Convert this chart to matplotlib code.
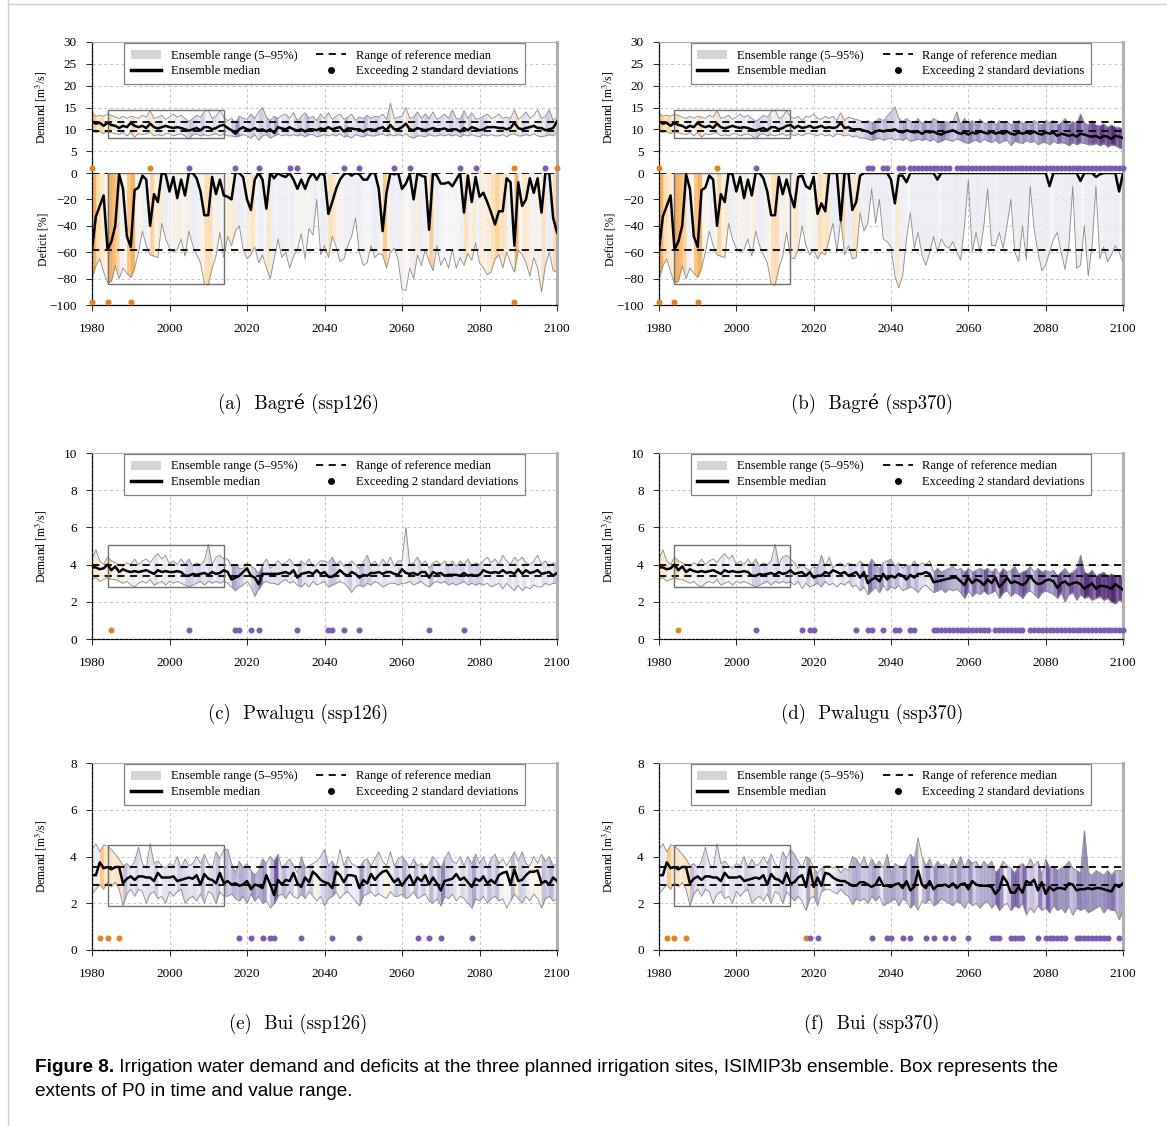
import numpy as np
import matplotlib
matplotlib.use("Agg")
import matplotlib.pyplot as plt
from matplotlib.colors import Normalize
from matplotlib.patches import Patch, Rectangle
from matplotlib.lines import Line2D
import matplotlib.font_manager as fm

plt.rcParams['font.family'] = ['Liberation Serif', 'DejaVu Serif']
plt.rcParams['mathtext.fontset'] = 'stix'
plt.rcParams['axes.unicode_minus'] = True

years = np.arange(1980, 2101)

# ---------------- Bagré demand [m3/s] ----------------
bagre_hist_med = [11.8, 11.3, 11.5, 10.8, 11.5, 11.0, 10.8, 10.3, 10.8, 10.5,
                  11.5, 10.8, 10.5, 10.8, 10.3, 11.3, 10.5, 10.2, 10.5, 10.8,
                  10.5, 10.3, 10.5, 10.3, 10.0, 9.7, 10.0, 10.3, 9.8, 10.5,
                  10.5, 10.0, 10.3, 10.8, 11.0]
bagre_hist_hi = [13.8, 13.0, 13.2, 13.0, 13.5, 13.2, 12.8, 12.5, 13.0, 12.5,
                 13.0, 12.8, 12.5, 13.2, 12.8, 14.3, 12.5, 12.8, 13.2, 12.3,
                 12.8, 13.5, 12.8, 13.2, 12.5, 11.8, 12.5, 13.2, 12.8, 14.0,
                 14.5, 12.5, 13.0, 14.3, 12.8]
bagre_hist_lo = [9.5, 9.3, 9.5, 9.0, 9.5, 9.2, 9.0, 8.8, 9.3, 8.5,
                 9.3, 8.2, 9.0, 8.8, 9.0, 9.3, 8.5, 8.8, 8.5, 9.0,
                 9.0, 8.5, 8.8, 9.0, 8.5, 7.8, 8.8, 9.0, 8.5, 8.8,
                 8.5, 8.8, 9.0, 8.5, 9.0]
bagre_126_med = [10.3, 9.8, 9.0, 10.0, 10.5,
                 10.0, 9.8, 10.3, 9.8, 10.0, 9.5, 10.0, 9.2, 10.5, 10.2,
                 10.0, 10.5, 10.0, 9.7, 10.0, 9.5, 10.0, 10.0, 9.8, 10.2,
                 10.0, 10.5, 10.0, 10.3, 10.5, 9.5, 10.2, 10.2, 10.0, 10.0,
                 9.5, 10.0, 10.0, 9.8, 10.2, 10.5, 9.8, 11.0, 10.0, 10.0,
                 10.5, 11.3, 10.0, 9.8, 10.3, 10.0, 9.8, 10.0, 10.3, 10.0,
                 10.0, 10.2, 9.8, 10.0, 10.0, 9.5, 10.3, 9.8, 10.5, 10.2,
                 9.8, 10.0, 10.5, 10.5, 10.5, 10.3, 10.3, 10.0, 10.3, 11.5,
                 10.3, 10.0, 10.3, 10.5, 10.8, 10.3, 10.3, 9.8, 10.0, 10.3,
                 11.8]
bagre_126_hi = [12.0, 12.5, 11.5, 13.0, 12.5,
                12.3, 13.5, 12.5, 14.0, 15.0, 12.8, 12.0, 13.0, 12.5, 13.2,
                13.5, 12.5, 13.8, 12.0, 13.0, 13.8, 12.5, 13.0, 12.0, 13.5,
                12.5, 13.8, 12.3, 13.0, 13.5, 12.3, 12.8, 13.5, 12.0, 12.8,
                12.5, 13.2, 12.5, 13.0, 12.8, 13.5, 12.3, 16.0, 12.5, 12.8,
                13.0, 15.0, 12.5, 12.8, 14.0, 12.5, 13.5, 12.5, 14.0, 12.3,
                12.8, 13.5, 12.5, 14.5, 12.5, 12.3, 14.3, 12.5, 13.8, 12.3,
                12.5, 13.0, 13.5, 12.5, 12.8, 13.5, 12.5, 12.8, 12.5, 14.5,
                12.3, 13.0, 14.0, 12.5, 13.2, 14.5, 12.5, 13.0, 14.5, 12.0,
                12.8]
bagre_126_lo = [8.5, 8.5, 8.3, 8.5, 8.8,
                8.5, 8.0, 8.8, 7.5, 8.5, 8.8, 8.0, 8.5, 9.0, 8.5,
                8.8, 8.5, 8.8, 8.5, 8.8, 8.3, 8.8, 8.8, 8.3, 8.5,
                8.8, 8.5, 8.8, 8.5, 9.0, 8.3, 8.5, 8.0, 8.8, 8.5,
                8.3, 8.8, 8.5, 8.5, 8.8, 9.0, 8.5, 8.8, 8.5, 8.8,
                8.5, 9.0, 8.3, 8.0, 8.5, 8.5, 8.3, 8.8, 8.5, 8.5,
                8.8, 8.5, 8.8, 8.5, 8.8, 8.3, 8.8, 8.5, 8.8, 8.5,
                8.3, 8.8, 8.5, 8.8, 8.5, 8.5, 8.8, 8.3, 8.8, 9.0,
                8.5, 8.5, 8.8, 8.5, 9.0, 8.5, 8.3, 8.5, 8.8, 8.5,
                9.3]
bagre_370_med = [10.3, 10.8, 10.3, 10.5, 10.8,
                 10.3, 10.5, 10.8, 10.3, 10.5, 10.3, 10.5, 11.5, 10.3, 10.5,
                 10.0, 10.0, 10.0, 9.7, 9.5, 9.0, 9.5, 9.8, 9.5, 9.8,
                 9.8, 10.0, 9.5, 9.3, 9.8, 9.5, 9.3, 9.5, 9.0, 9.5,
                 9.3, 9.5, 9.0, 8.8, 9.3, 9.5, 9.8, 9.3, 9.0, 9.3,
                 8.8, 9.3, 9.0, 9.5, 9.3, 9.0, 9.5, 9.0, 9.3, 9.0,
                 9.5, 9.0, 8.8, 9.3, 9.0, 9.3, 9.0, 9.5, 9.0, 8.8,
                 9.3, 9.0, 9.3, 8.5, 9.0, 8.8, 8.5, 8.8, 8.3, 9.0,
                 8.8, 8.5, 8.3, 8.5, 8.0, 8.5, 8.3, 7.8, 8.5, 8.3,
                 8.0]
bagre_370_hi = [12.5, 13.0, 12.0, 13.0, 12.8,
                13.5, 12.5, 12.3, 13.0, 12.5, 13.0, 12.0, 13.8, 12.0, 12.8,
                12.5, 12.3, 12.0, 11.5, 12.0, 11.5, 11.8, 12.5, 12.0, 13.0,
                14.0, 15.2, 12.5, 11.8, 12.5, 11.8, 11.5, 12.5, 11.3, 12.0,
                11.5, 12.5, 12.0, 11.5, 11.8, 11.5, 11.8, 14.0, 11.0, 12.5,
                11.3, 12.0, 11.0, 12.3, 11.5, 11.3, 12.0, 11.0, 12.0, 11.3,
                11.8, 11.0, 11.5, 12.0, 11.3, 11.8, 11.0, 12.0, 11.3, 11.0,
                12.0, 11.5, 12.0, 11.0, 11.5, 12.5, 11.0, 11.8, 11.3, 13.5,
                11.5, 11.0, 12.0, 11.0, 10.8, 11.3, 10.5, 11.0, 10.5, 10.5,
                10.0]
bagre_370_lo = [8.5, 9.0, 8.5, 9.0, 9.0,
                8.8, 8.5, 9.0, 8.5, 8.8, 8.3, 9.0, 8.8, 8.5, 8.8,
                8.3, 8.5, 8.0, 8.0, 7.8, 7.5, 7.8, 8.0, 7.5, 7.8,
                8.0, 7.5, 7.8, 7.5, 8.0, 7.3, 7.5, 7.8, 7.5, 7.8,
                7.3, 7.8, 7.0, 7.3, 7.8, 7.5, 7.3, 7.8, 7.5, 7.0,
                6.8, 7.3, 7.5, 7.0, 7.8, 7.3, 7.0, 7.5, 6.8, 7.3,
                7.5, 6.3, 7.3, 7.0, 6.8, 7.5, 7.0, 7.3, 6.5, 7.0,
                7.0, 6.5, 7.3, 6.8, 7.0, 6.8, 6.3, 7.0, 6.5, 7.0,
                6.8, 6.5, 6.5, 6.8, 6.3, 6.8, 6.0, 6.5, 6.3, 5.8,
                5.5]

# ---------------- Bagré deficit [%] ----------------
bagre_def_hist_med = [-58, -33, -25, -17, -58, -52, -40, -1, -12, -48,
                      -56, -13, -11, -2, -5, -40, -16, -22, 0, -1,
                      -14, -3, -19, -5, -17, 0, 0, -4, -14, -32,
                      -32, -3, -16, -5, -17]
bagre_def_hist_lo = [-80, -70, -65, -75, -83, -82, -70, -80, -72, -76,
                     -79, -72, -60, -44, -55, -62, -63, -64, -38, -50,
                     -57, -60, -58, -50, -63, -44, -55, -62, -68, -84,
                     -85, -72, -63, -45, -64]
bagre_def_126_med = [-18, -20, 0, 0, -3,
                     -20, -28, -5, 0, -5, -27, 0, -4, 0, -2,
                     -3, 0, -5, -12, -5, -12, -4, 0, -5, 0,
                     -2, -31, -22, -12, -5, -1, 0, -2, 0, -1,
                     -5, -5, 0, 0, -12, -44, -15, 0, -1, 0,
                     -12, -8, -1, -20, 0, -2, -3, -43, 0, -2,
                     -8, -8, -7, -10, -5, 0, -30, -2, -22, -3,
                     -18, -15, -22, -30, -39, -29, -29, -4, -7, -55,
                     -7, -25, -20, -4, -15, -4, -30, 0, 0, -34,
                     -45]
bagre_def_126_lo = [-48, -55, -44, -40, -58,
                    -65, -62, -56, -68, -62, -72, -80, -65, -50, -64,
                    -60, -72, -63, -58, -46, -65, -42, -47, -20, -62,
                    -55, -64, -48, -56, -67, -65, -55, -48, -34, -60,
                    -70, -68, -55, -64, -61, -62, -72, -60, -57, -66,
                    -88, -89, -72, -80, -62, -70, -58, -67, -74, -55,
                    -70, -64, -72, -58, -72, -64, -70, -61, -66, -53,
                    -68, -72, -77, -75, -65, -62, -72, -60, -68, -75,
                    -58, -62, -68, -78, -64, -72, -90, -70, -60, -74,
                    -75]
bagre_def_370_med = [-26, -3, -2, -10, -12,
                     -3, -31, -23, -29, 0, 0, 0, -36, 0, 0,
                     -28, -22, -2, 0, 0, 0, 0, 0, 0, 0,
                     -5, -23, -2, -2, -7, 0, 0, 0, 0, 0,
                     0, 0, -5, 0, 0, 0, 0, 0, 0, 0,
                     0, 0, 0, 0, 0, 0, 0, 0, 0, 0,
                     0, 0, 0, 0, 0, 0, 0, 0, 0, 0,
                     0, -10, 0, 0, 0, 0, 0, 0, 0, -6,
                     0, 0, 0, -3, -1, 0, 0, 0, 0, -14,
                     0]
bagre_def_370_lo = [-65, -58, -40, -55, -62,
                    -58, -65, -60, -62, -50, -38, -60, -35, -62, -55,
                    -65, -64, -30, -44, -38, -12, -38, -20, -50, -52,
                    -56, -78, -87, -78, -50, -30, -57, -45, -62, -70,
                    -60, -48, -60, -50, -55, -57, -52, -60, -66, -40,
                    -5, -60, -45, -60, -40, -12, -55, -55, -45, -57,
                    -40, -20, -60, -67, -40, -66, -10, -42, -60, -74,
                    -70, -60, -50, -45, -60, -73, -55, -10, -72, -70,
                    -40, -78, -55, -10, -65, -56, -67, -62, -55, -60,
                    -68]

# ---------------- Pwalugu demand [m3/s] ----------------
pwalugu_hist_med = [3.85, 3.85, 3.75, 3.8, 4.0, 3.7, 3.9, 3.6, 3.75, 3.65,
                    3.6, 3.65, 3.6, 3.65, 3.7, 3.6, 3.5, 3.7, 3.6, 3.65,
                    3.6, 3.6, 3.65, 3.6, 3.4, 3.4, 3.5, 3.45, 3.5, 3.55,
                    3.45, 3.6, 3.5, 3.55, 3.7]
pwalugu_hist_hi = [4.3, 4.8, 4.2, 4.0, 4.4, 4.2, 4.1, 4.0, 3.9, 4.1,
                   4.0, 4.3, 4.0, 4.2, 4.3, 4.1, 4.4, 4.6, 4.3, 4.5,
                   4.0, 4.2, 4.0, 4.3, 4.0, 4.3, 3.9, 4.1, 4.0, 4.2,
                   5.1, 4.0, 4.4, 4.5, 4.3]
pwalugu_hist_lo = [3.2, 3.3, 3.1, 3.2, 3.3, 3.2, 3.2, 3.1, 3.0, 3.1,
                   2.9, 2.8, 3.0, 3.1, 3.0, 3.2, 2.9, 3.0, 3.1, 2.9,
                   3.1, 3.0, 3.1, 3.0, 2.9, 2.8, 2.9, 3.0, 3.1, 2.9,
                   3.1, 3.0, 3.1, 3.0, 3.1]
pwalugu_126_med = [3.6, 3.2, 3.3, 3.4, 3.6,
                   3.8, 3.4, 3.3, 2.95, 3.5, 3.5, 3.5, 3.5, 3.5, 3.55,
                   3.6, 3.5, 3.7, 3.3, 3.5, 3.55, 3.6, 3.5, 3.7, 3.5,
                   3.6, 3.35, 3.35, 3.5, 3.7, 3.5, 3.4, 3.6, 3.5, 3.3,
                   3.45, 3.4, 3.55, 3.55, 3.6, 3.5, 3.6, 3.6, 3.5, 3.45,
                   3.75, 3.55, 3.5, 3.55, 3.45, 3.6, 3.6, 3.3, 3.6, 3.5,
                   3.55, 3.4, 3.45, 3.45, 3.45, 3.4, 3.55, 3.4, 3.45, 3.4,
                   3.45, 3.7, 3.6, 3.55, 3.6, 3.55, 3.7, 3.55, 3.6, 3.5,
                   3.75, 3.5, 3.7, 3.55, 3.6, 3.7, 3.5, 3.55, 3.6, 3.4,
                   3.55]
pwalugu_126_hi = [4.3, 3.9, 4.0, 3.8, 3.8,
                  4.1, 3.9, 3.8, 3.5, 4.0, 4.3, 3.8, 4.0, 4.2, 4.0,
                  4.1, 4.3, 4.0, 3.9, 4.2, 4.0, 4.3, 3.9, 4.0, 4.2,
                  4.2, 4.1, 4.4, 4.0, 4.2, 3.9, 4.0, 4.2, 4.0, 3.8,
                  4.1, 4.5, 4.0, 4.2, 3.9, 4.3, 4.0, 4.4, 3.9, 4.2,
                  4.2, 6.0, 4.0, 4.1, 4.4, 4.0, 4.2, 3.8, 4.1, 4.2,
                  4.0, 4.2, 3.9, 4.2, 3.9, 4.2, 4.0, 4.3, 3.9, 4.1,
                  4.0, 4.2, 4.4, 4.1, 4.3, 4.0, 4.5, 4.2, 4.0, 4.4,
                  4.2, 4.4, 4.1, 4.0, 4.2, 4.5, 4.0, 4.2, 3.9, 4.1,
                  4.0]
pwalugu_126_lo = [3.0, 2.8, 2.6, 2.8, 2.9,
                  3.1, 2.8, 2.3, 2.7, 3.0, 3.1, 3.0, 3.0, 2.9, 3.1,
                  3.2, 3.0, 3.1, 2.9, 2.8, 3.0, 2.8, 3.1, 2.9, 3.0,
                  3.1, 2.8, 2.9, 3.0, 3.1, 3.0, 2.8, 2.5, 2.8, 2.9,
                  2.8, 3.0, 2.9, 3.1, 3.0, 2.8, 2.9, 3.0, 3.0, 2.9,
                  3.0, 3.0, 3.1, 2.9, 3.0, 3.1, 2.9, 2.8, 3.0, 3.1,
                  3.0, 3.1, 2.9, 3.0, 2.9, 3.0, 3.1, 2.9, 3.0, 2.9,
                  3.0, 2.9, 3.0, 2.8, 2.9, 3.0, 2.7, 3.0, 2.8, 2.6,
                  2.9, 2.6, 2.8, 2.7, 2.9, 2.8, 2.8, 3.0, 2.9, 3.0,
                  3.0]
pwalugu_370_med = [3.5, 3.55, 3.6, 3.4, 3.6,
                   3.3, 3.4, 3.4, 3.6, 3.5, 3.7, 3.6, 3.5, 3.6, 3.4,
                   3.5, 3.6, 3.3, 3.6, 3.0, 3.2, 3.3, 3.1, 3.5, 3.2,
                   3.4, 3.3, 3.5, 3.4, 3.2, 3.45, 3.3, 3.5, 3.5, 3.6,
                   3.5, 3.05, 3.1, 3.15, 3.2, 3.25, 3.3, 3.3, 3.1, 2.9,
                   3.3, 3.0, 3.2, 3.1, 2.9, 3.2, 3.0, 3.3, 2.8, 3.0,
                   3.3, 3.0, 3.1, 3.0, 2.9, 3.05, 3.4, 3.1, 2.95, 3.0,
                   3.15, 3.2, 3.1, 2.75, 3.0, 3.1, 2.9, 3.0, 3.05, 2.95,
                   2.7, 2.85, 3.0, 2.7, 2.85, 2.85, 2.8, 2.7, 2.95, 2.8,
                   2.65]
pwalugu_370_hi = [4.1, 3.8, 4.0, 3.8, 3.7,
                  3.9, 3.8, 4.5, 3.9, 4.4, 3.8, 4.0, 4.1, 3.9, 4.1,
                  4.0, 3.9, 4.2, 4.0, 3.9, 4.3, 4.0, 3.8, 4.1, 4.2,
                  4.3, 3.9, 4.1, 3.8, 4.0, 3.9, 4.2, 3.9, 4.1, 4.0,
                  4.2, 3.6, 3.8, 3.6, 3.7, 3.8, 3.9, 3.7, 3.8, 3.6,
                  3.8, 3.6, 3.7, 3.8, 3.7, 3.8, 3.6, 3.8, 3.5, 3.8,
                  3.6, 3.7, 3.9, 3.5, 3.6, 3.7, 3.9, 3.6, 3.8, 3.6,
                  3.7, 3.6, 3.7, 3.4, 3.6, 3.8, 3.5, 3.6, 3.8, 4.5,
                  3.6, 3.5, 3.7, 3.4, 3.5, 3.6, 3.4, 3.5, 3.4, 3.4,
                  3.3]
pwalugu_370_lo = [2.9, 3.1, 2.7, 3.0, 2.8,
                  2.9, 3.0, 2.8, 3.1, 2.9, 3.0, 2.8, 3.0, 2.9, 3.1,
                  2.8, 2.9, 2.6, 2.8, 2.4, 2.6, 2.8, 2.5, 2.9, 2.6,
                  2.8, 2.7, 2.9, 2.6, 2.7, 2.8, 2.7, 2.5, 2.8, 2.9,
                  2.7, 2.5, 2.6, 2.7, 2.5, 2.7, 2.6, 2.7, 2.5, 2.2,
                  2.6, 2.3, 2.5, 2.4, 2.6, 2.4, 2.5, 2.6, 2.2, 2.5,
                  2.6, 2.3, 2.5, 2.4, 2.2, 2.5, 2.6, 2.4, 2.2, 2.5,
                  2.6, 2.5, 2.4, 2.2, 2.5, 2.0, 2.4, 2.5, 2.1, 2.4,
                  2.2, 2.3, 2.1, 2.2, 2.3, 2.1, 2.2, 2.0, 1.9, 2.1,
                  2.0]

# ---------------- Bui demand [m3/s] ----------------
bui_hist_med = [3.2, 3.2, 3.75, 3.5, 3.55, 3.45, 3.55, 3.55, 2.85, 3.05,
                3.15, 3.0, 3.15, 3.15, 3.1, 3.1, 2.95, 3.3, 3.1, 3.1,
                3.1, 3.15, 2.95, 3.0, 3.05, 3.1, 3.05, 3.2, 2.8, 3.25,
                3.05, 3.0, 2.85, 3.3, 2.85]
bui_hist_hi = [4.3, 4.55, 4.2, 4.5, 4.45, 4.3, 4.1, 3.9, 3.6, 3.7,
               3.5, 3.8, 4.4, 3.7, 3.5, 4.55, 3.7, 3.8, 3.6, 3.5,
               3.7, 3.6, 4.0, 3.5, 3.9, 3.6, 3.7, 4.0, 3.7, 4.1,
               3.7, 3.5, 4.2, 3.9, 4.3]
bui_hist_lo = [2.4, 2.6, 2.8, 2.6, 2.9, 2.7, 2.9, 2.6, 1.9, 2.4,
               2.6, 2.3, 2.6, 2.5, 2.0, 2.4, 2.5, 2.2, 2.3, 2.0,
               2.5, 2.3, 2.5, 2.6, 2.0, 2.2, 2.3, 2.1, 2.4, 2.0,
               2.5, 2.4, 2.0, 2.5, 2.3]
bui_126_med = [2.95, 2.8, 2.85, 2.75, 2.8,
               2.95, 2.6, 2.8, 2.75, 2.65, 3.2, 2.8, 2.35, 3.0, 2.8,
               3.0, 2.95, 3.3, 2.85, 2.7, 3.1, 2.9, 3.35, 3.2, 3.0,
               2.9, 2.85, 2.65, 3.35, 3.2, 2.9, 3.2, 3.2, 3.15, 2.65,
               3.0, 2.85, 3.25, 3.0, 3.2, 3.35, 3.4, 3.15, 2.9, 3.05,
               2.75, 3.0, 3.2, 2.8, 3.1, 2.95, 3.2, 2.8, 3.1, 2.85,
               2.55, 2.95, 3.0, 3.05, 3.25, 3.0, 3.1, 2.9, 2.7, 3.05,
               2.95, 3.15, 2.85, 3.0, 2.85, 3.2, 3.3, 3.35, 2.8, 3.45,
               2.95, 3.0, 3.2, 3.35, 3.35, 3.4, 2.85, 2.95, 2.8, 3.1,
               2.95]
bui_126_hi = [4.3, 3.7, 3.3, 3.8, 3.5,
              3.7, 3.4, 3.2, 3.4, 3.9, 3.7, 4.0, 3.8, 4.1, 3.5,
              3.7, 3.9, 3.6, 3.3, 4.0, 3.5, 3.6, 3.7, 3.8, 4.0,
              4.3, 3.6, 3.8, 3.5, 4.3, 3.6, 4.0, 3.7, 3.6, 3.5,
              3.8, 3.9, 3.6, 3.9, 4.2, 3.8, 3.6, 4.2, 3.6, 3.9,
              4.0, 3.8, 3.5, 3.9, 3.6, 3.7, 3.5, 3.7, 4.0, 3.8,
              3.5, 3.9, 4.2, 3.8, 3.7, 4.0, 3.6, 4.0, 3.7, 4.1,
              3.7, 4.0, 3.5, 3.9, 4.1, 3.7, 3.9, 3.6, 3.9, 4.2,
              3.8, 4.2, 3.7, 3.6, 4.0, 3.7, 4.1, 3.8, 4.0, 3.6,
              3.7]
bui_126_lo = [2.3, 2.4, 2.2, 2.1, 2.3,
              2.0, 2.4, 2.1, 2.3, 2.0, 2.1, 1.8, 2.0, 2.3, 2.4,
              2.2, 2.5, 2.3, 2.2, 2.4, 2.2, 2.5, 2.3, 2.1, 2.3,
              1.9, 2.2, 2.3, 2.5, 2.2, 2.4, 2.5, 2.3, 2.1, 1.9,
              2.3, 2.4, 2.5, 2.3, 2.4, 2.3, 2.2, 2.5, 2.3, 2.3,
              2.4, 2.2, 2.3, 2.5, 2.2, 2.3, 2.4, 2.1, 2.0, 2.2,
              1.9, 2.3, 2.2, 2.4, 2.1, 2.3, 2.2, 2.0, 1.8, 2.2,
              2.1, 2.3, 2.0, 2.2, 2.3, 2.1, 2.2, 1.8, 2.1, 2.4,
              2.2, 2.0, 2.3, 2.1, 2.4, 2.2, 1.8, 2.2, 2.3, 2.1,
              2.2]
bui_370_med = [2.9, 3.1, 3.2, 2.7, 3.55,
               2.7, 3.1, 2.75, 3.3, 3.25, 3.1, 3.0, 2.95, 2.95, 2.85,
               2.75, 2.75, 2.9, 2.9, 2.8, 2.7, 2.8, 3.1, 2.75, 2.75,
               2.7, 2.8, 2.85, 2.65, 2.95, 2.55, 2.7, 3.4, 2.8, 2.65,
               2.95, 2.6, 2.75, 2.75, 2.8, 2.7, 2.85, 2.65, 2.8, 2.85,
               2.6, 2.95, 2.8, 2.75, 2.75, 2.75, 2.7, 2.4, 2.6, 3.15,
               2.9, 2.45, 2.45, 2.7, 2.45, 2.95, 2.85, 3.0, 2.55, 2.9,
               2.4, 2.7, 2.55, 2.65, 2.65, 2.6, 2.85, 2.8, 2.55, 2.6,
               2.6, 2.65, 2.6, 2.65, 2.65, 2.6, 2.55, 2.5, 2.8, 2.7,
               2.85]
bui_370_hi = [4.1, 3.8, 3.5, 4.0, 3.9,
              3.5, 3.3, 3.5, 3.6, 3.6, 3.5, 3.6, 3.3, 3.5, 3.4,
              4.0, 3.9, 3.6, 4.0, 3.5, 3.9, 3.6, 3.8, 3.5, 4.1,
              3.3, 3.7, 3.6, 3.5, 3.8, 4.1, 3.9, 4.8, 4.0, 3.6,
              3.9, 3.5, 3.8, 3.6, 3.7, 3.5, 3.9, 3.6, 4.0, 3.5,
              3.9, 3.7, 3.8, 3.5, 3.8, 3.6, 3.8, 3.3, 3.5, 3.8,
              3.6, 3.5, 3.3, 3.6, 3.7, 3.5, 3.9, 3.6, 3.8, 3.2,
              3.9, 3.5, 3.6, 3.4, 3.5, 3.6, 3.8, 3.5, 3.4, 3.3,
              5.1, 3.3, 3.2, 3.4, 3.3, 3.2, 3.4, 3.2, 3.4, 3.4,
              3.4]
bui_370_lo = [2.1, 2.3, 2.1, 1.7, 2.2,
              2.3, 1.9, 2.5, 2.6, 2.6, 2.5, 2.4, 2.6, 2.4, 2.3,
              1.95, 2.2, 2.1, 2.2, 2.0, 2.3, 2.1, 2.3, 1.9, 2.0,
              2.1, 2.2, 1.9, 2.2, 2.1, 1.8, 2.0, 1.7, 2.1, 2.0,
              2.2, 1.9, 2.0, 2.2, 2.1, 2.0, 1.9, 2.1, 2.0, 1.8,
              2.1, 1.9, 2.0, 1.8, 2.0, 2.1, 1.8, 2.0, 1.7, 1.9,
              2.0, 1.7, 1.9, 1.8, 2.0, 1.5, 1.8, 1.6, 1.9, 1.7,
              1.8, 1.6, 1.9, 1.7, 1.8, 1.6, 1.9, 1.5, 1.8, 1.7,
              1.8, 1.6, 1.7, 1.8, 1.9, 1.6, 1.8, 1.7, 1.7, 1.3,
              1.7]

# ---------------- reference median ranges and P0 boxes ----------------
bagre_ref = [9.6, 11.75]
bagre_def_ref = [-58, 0]
pwalugu_ref = [3.37, 4.0]
bui_ref = [2.76, 3.54]
p0_years = [1984, 2014]
bagre_box = [8.0, 14.4]
bagre_def_box = [-84, 0]
pwalugu_box = [2.77, 5.08]
bui_box = [1.9, 4.5]

# ---------------- years exceeding 2 standard deviations ----------------
a_top_orange = [1980, 1995, 2089, 2100]
a_top_purple = [2005, 2017, 2023, 2031, 2033, 2045, 2049, 2058, 2062, 2075, 2079, 2097]
a_bot_orange = [1980, 1984, 1990, 2089]
b_top_orange = [1980, 1995]
b_top_purple = [2005, 2034, 2035, 2038, 2039, 2042, 2043] + list(range(2045, 2056)) + list(range(2057, 2101))
b_bot_orange = [1980, 1984, 1990]
c_orange = [1985]
c_purple = [2005, 2017, 2018, 2021, 2023, 2033, 2041, 2042, 2045, 2049, 2067, 2076]
d_orange = [1985]
d_purple = ([2005, 2017, 2019, 2020, 2031, 2034, 2035, 2038, 2041, 2042, 2045, 2046]
            + list(range(2051, 2066)) + list(range(2067, 2075)) + list(range(2076, 2101)))
e_orange = [1982, 1984, 1987]
e_purple = [2018, 2021, 2024, 2026, 2027, 2034, 2042, 2049, 2064, 2067, 2070, 2078]
f_orange = [1982, 1984, 1987, 2018]
f_purple = ([2019, 2021, 2035, 2039, 2040, 2043, 2045, 2049, 2051, 2054, 2056, 2060,
             2066, 2067, 2068, 2071, 2072, 2073, 2074, 2078]
            + list(range(2080, 2086)) + list(range(2088, 2097)) + [2099])

panel_titles = ["(a)  Bagré (ssp126)", "(b)  Bagré (ssp370)",
                "(c)  Pwalugu (ssp126)", "(d)  Pwalugu (ssp370)",
                "(e)  Bui (ssp126)", "(f)  Bui (ssp370)"]
caption_bold = "Figure 8."
caption_rest = (" Irrigation water demand and deficits at the three planned irrigation sites, "
                "ISIMIP3b ensemble. Box represents the")
caption_line2 = "extents of P0 in time and value range."

# ---------------- style ----------------
W, H = 1167, 1126
fig = plt.figure(figsize=(W / 100, H / 100), dpi=100)
cmap = plt.get_cmap('PuOr')
ORANGE = '#e3821f'
PURPLE = '#7b5bb3'
GRIDC = '#c4c4c4'
OUTLINE = '#8a8a8a'
FILL_ALPHA = 0.8


def ax_at(x0, x1, ytop, ybot):
    return fig.add_axes([x0 / W, 1 - ybot / H, (x1 - x0) / W, (ybot - ytop) / H])


def style_axes(ax, show_x=True):
    ax.set_xlim(1980, 2100)
    ax.set_xticks([1980, 2000, 2020, 2040, 2060, 2080, 2100])
    ax.grid(True, color=GRIDC, linestyle=(0, (3, 3)), linewidth=0.7)
    ax.set_axisbelow(True)
    ax.tick_params(labelsize=9.5, width=0.6, direction='out')
    ax.tick_params(axis='x', length=4, pad=9)
    ax.tick_params(axis='y', length=4, pad=7)
    ax.spines['left'].set_linestyle((0, (2.5, 1.2)))
    ax.spines['left'].set_linewidth(0.9)
    ax.spines['bottom'].set_linewidth(0.9)
    ax.spines['top'].set_color('#b0b0b0')
    ax.spines['top'].set_linewidth(0.8)
    ax.spines['right'].set_color('#b0b0b0')
    ax.spines['right'].set_linewidth(2.2)
    if not show_x:
        ax.tick_params(axis='x', labelbottom=False, length=0)


def draw_band(ax, lo, hi, colour_val, norm):
    for i in range(len(years) - 1):
        c = cmap(norm(colour_val[i]))
        ax.fill_between(years[i:i + 2], lo[i:i + 2], hi[i:i + 2],
                        facecolor=c, edgecolor=c, linewidth=0.35, alpha=FILL_ALPHA, zorder=1)


def demand_panel(ax, med, lo, hi, ref, box, centre, spread):
    med = np.asarray(med); lo = np.asarray(lo); hi = np.asarray(hi)
    norm = Normalize(vmin=-spread, vmax=spread, clip=True)
    draw_band(ax, lo, hi, centre - med, norm)
    ax.plot(years, hi, color=OUTLINE, lw=0.6, zorder=2)
    ax.plot(years, lo, color=OUTLINE, lw=0.6, zorder=2)
    for r in ref:
        ax.axhline(r, color='black', lw=1.3, linestyle=(0, (4, 3)), zorder=3)
    ax.add_patch(Rectangle((p0_years[0], box[0]), p0_years[1] - p0_years[0], box[1] - box[0],
                           fill=False, edgecolor='#707070', lw=1.0, zorder=4))
    ax.plot(years, med, color='black', lw=1.8, zorder=5)


def deficit_panel(ax, med, lo, ref, box):
    med = np.asarray(med); lo = np.asarray(lo)
    zero = np.zeros_like(lo, dtype=float)
    norm = Normalize(vmin=-100, vmax=100, clip=True)
    draw_band(ax, lo, zero, med + 8, norm)
    ax.plot(years, lo, color=OUTLINE, lw=0.6, zorder=2)
    for r in ref:
        ax.axhline(r, color='black', lw=1.3, linestyle=(0, (4, 3)), zorder=3)
    ax.add_patch(Rectangle((p0_years[0], box[0]), p0_years[1] - p0_years[0], box[1] - box[0],
                           fill=False, edgecolor='#707070', lw=1.0, zorder=4))
    ax.plot(years, med, color='black', lw=1.8, zorder=5)


def dots(ax, yrs, y, colour):
    ax.plot(yrs, [y] * len(yrs), linestyle='none', marker='o', ms=3.3,
            color=colour, zorder=6, clip_on=False)


def add_legend(ax):
    handles = [Patch(facecolor='#d4d4d4', edgecolor='none'),
               Line2D([], [], color='black', lw=2.5),
               Line2D([], [], color='black', lw=1.3, linestyle=(0, (4, 3))),
               Line2D([], [], color='black', linestyle='none', marker='o', ms=4)]
    labels = ["Ensemble range (5\u201395%)", "Ensemble median",
              "Range of reference median", "Exceeding 2 standard deviations"]
    leg = ax.legend(handles, labels, ncol=2, loc='upper center', bbox_to_anchor=(0.5, 1.0),
                    fontsize=9, frameon=True, fancybox=False, framealpha=1,
                    edgecolor='#808080', borderaxespad=0.1, columnspacing=1.5,
                    handlelength=2.4, handletextpad=0.8, labelspacing=0.3,
                    borderpad=0.5)
    leg.get_frame().set_linewidth(0.9)
    leg.set_zorder(10)


LX = (92, 557)
RX = (659, 1123)
YLAB_X = -0.092

# ---------------- row 1: Bagré ----------------
bagre_sets = [
    (LX, bagre_126_med, bagre_126_hi, bagre_126_lo, bagre_def_126_med, bagre_def_126_lo,
     a_top_orange, a_top_purple, a_bot_orange),
    (RX, bagre_370_med, bagre_370_hi, bagre_370_lo, bagre_def_370_med, bagre_def_370_lo,
     b_top_orange, b_top_purple, b_bot_orange),
]
for (xr, fmed, fhi, flo, dmed, dlo, t_or, t_pu, b_or) in bagre_sets:
    axd = ax_at(xr[0], xr[1], 42, 173)
    med = bagre_hist_med + fmed
    hi = bagre_hist_hi + fhi
    lo = bagre_hist_lo + flo
    demand_panel(axd, med, lo, hi, bagre_ref, bagre_box, 10.7, 3.0)
    axd.set_ylim(0, 30)
    axd.set_yticks([5, 10, 15, 20, 25, 30])
    style_axes(axd, show_x=False)
    axd.spines['bottom'].set_visible(False)
    axd.set_ylabel('Demand [m$^3$/s]', fontsize=8.5)
    axd.yaxis.set_label_coords(YLAB_X, 0.5)
    add_legend(axd)
    dots(axd, t_or, 1.1, ORANGE)
    dots(axd, t_pu, 1.1, PURPLE)

    axf = ax_at(xr[0], xr[1], 173, 305)
    deficit_panel(axf, bagre_def_hist_med + dmed, bagre_def_hist_lo + dlo,
                  bagre_def_ref, bagre_def_box)
    axf.set_ylim(-100, 0)
    axf.set_yticks([-100, -80, -60, -40, -20, 0])
    style_axes(axf)
    axf.spines['top'].set_visible(False)
    axf.set_ylabel('Deficit [%]', fontsize=8.5)
    axf.yaxis.set_label_coords(YLAB_X, 0.5)
    dots(axf, b_or, -98, ORANGE)

# ---------------- rows 2 & 3: Pwalugu, Bui ----------------
rows = [
    (453, 639, 10, [0, 2, 4, 6, 8, 10], pwalugu_hist_med, pwalugu_hist_hi, pwalugu_hist_lo,
     [(pwalugu_126_med, pwalugu_126_hi, pwalugu_126_lo, c_orange, c_purple),
      (pwalugu_370_med, pwalugu_370_hi, pwalugu_370_lo, d_orange, d_purple)],
     pwalugu_ref, pwalugu_box, 3.7, 1.0),
    (763, 950, 8, [0, 2, 4, 6, 8], bui_hist_med, bui_hist_hi, bui_hist_lo,
     [(bui_126_med, bui_126_hi, bui_126_lo, e_orange, e_purple),
      (bui_370_med, bui_370_hi, bui_370_lo, f_orange, f_purple)],
     bui_ref, bui_box, 3.3, 1.2),
]
for (yt, yb, ymax, yt_list, hmed, hhi, hlo, scen, ref, box, centre, spread) in rows:
    for xr, (fmed, fhi, flo, s_or, s_pu) in zip([LX, RX], scen):
        ax = ax_at(xr[0], xr[1], yt, yb)
        demand_panel(ax, hmed + fmed, hlo + flo, hhi + fhi, ref, box, centre, spread)
        ax.set_ylim(0, ymax)
        ax.set_yticks(yt_list)
        style_axes(ax)
        ax.spines['bottom'].set_linestyle((0, (2.5, 1.2)))
        ax.set_ylabel('Demand [m$^3$/s]', fontsize=8.5)
        ax.yaxis.set_label_coords(YLAB_X, 0.5)
        add_legend(ax)
        dots(ax, s_or, 0.5, ORANGE)
        dots(ax, s_pu, 0.5, PURPLE)

# ---------------- sub-captions ----------------
sub_font = ['cmr10', 'DejaVu Serif']
cap_y = [404, 714, 1024]
cap_x = [298, 872]
for k, title in enumerate(panel_titles):
    row, col = divmod(k, 2)
    fig.text(cap_x[col] / W, 1 - cap_y[row] / H, title, ha='center', va='center',
             fontsize=13.5, family=sub_font)

# ---------------- caption ----------------
names = {f.name for f in fm.fontManager.ttflist}
cap_font = 'Liberation Sans Narrow' if 'Liberation Sans Narrow' in names else 'Liberation Sans'
cap_size = 13.7
t1 = fig.text(35 / W, 1 - 1068 / H, caption_bold, fontsize=cap_size, fontweight='bold',
              family=cap_font, va='center', ha='left')
fig.canvas.draw()
bb = t1.get_window_extent()
fig.text(bb.x1 / W, 1 - 1068 / H, caption_rest, fontsize=cap_size, family=cap_font,
         va='center', ha='left')
fig.text(35 / W, 1 - 1091 / H, caption_line2, fontsize=cap_size, family=cap_font,
         va='center', ha='left')

# page frame
fig.add_artist(Line2D([8 / W, 8 / W], [0, 1], color='#cfcfcf', lw=1.0))
fig.add_artist(Line2D([8 / W, 1], [1 - 4 / H, 1 - 4 / H], color='#cfcfcf', lw=1.0))

fig.savefig('out.png', dpi=100)
